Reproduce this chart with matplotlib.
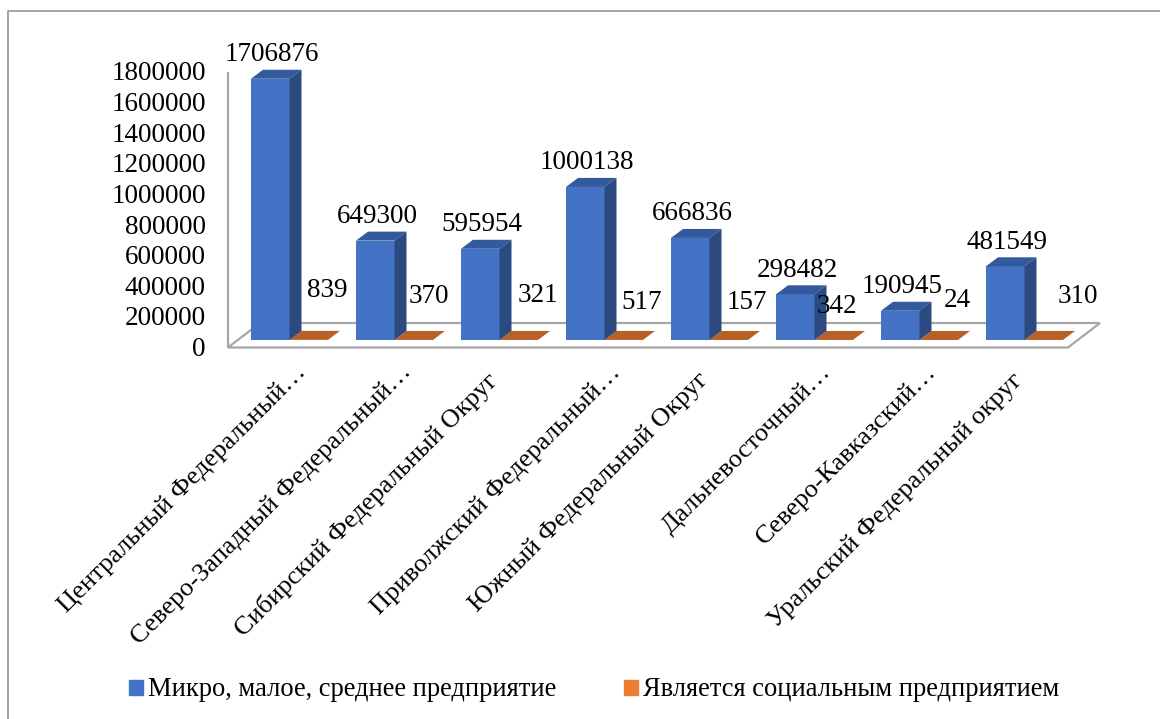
import matplotlib
matplotlib.use("Agg")
import matplotlib.pyplot as plt
from matplotlib.patches import Polygon, Patch
from matplotlib.transforms import ScaledTranslation

plt.rcParams['font.family'] = ['Liberation Serif', 'DejaVu Serif']

categories = ["Центральный Федеральный…", "Северо-Западный Федеральный…",
              "Сибирский Федеральный Округ", "Приволжский Федеральный…",
              "Южный Федеральный Округ", "Дальневосточный…",
              "Северо-Кавказский…", "Уральский Федеральный округ"]
micro = [1706876, 649300, 595954, 1000138, 666836, 298482, 190945, 481549]
social = [839, 370, 321, 517, 157, 342, 24, 310]
yticks = [0, 200000, 400000, 600000, 800000, 1000000, 1200000, 1400000, 1600000, 1800000]
series_names = ["Микро, малое, среднее предприятие", "Является социальным предприятием"]

W, H = 1160, 719
fig = plt.figure(figsize=(W / 100, H / 100), dpi=100)
AX_L, AX_R, AX_T, AX_B = 228, 1068, 71, 346.5
ax = fig.add_axes([AX_L / W, 1 - AX_B / H, (AX_R - AX_L) / W, (AX_B - AX_T) / H])
ax.set_xlim(-0.5, 7.5)
ax.set_ylim(0, 1800000)
for s in ax.spines.values():
    s.set_visible(False)
ax.patch.set_visible(False)

PXX = 1 / 105.0
PXY = 1800000 / (AX_B - AX_T)
FLOOR_PAD = 1 * PXY
BASE = 6.5 * PXY
BAR_W = 38.5 * PXX
LEFT = -29.5 * PXX
ORANGE_LEFT = LEFT + BAR_W
DX, DY = 12 * PXX, 9 * PXY
FDX, FDY = 32 * PXX, 24.5 * PXY
GRAY = "#A6A6A6"

# frame of the chart area
fig.add_artist(plt.Line2D([7.5 / W, 7.5 / W, 1], [0, 1 - 10.5 / H, 1 - 10.5 / H], color="#8C8C8C", lw=1.1))

# floor and wall
ax.add_patch(Polygon([(-0.5, -FLOOR_PAD), (7.5, -FLOOR_PAD), (7.5 + FDX, FDY - FLOOR_PAD), (-0.5 + FDX, FDY - FLOOR_PAD)], closed=True,
                     fc="white", ec=GRAY, lw=1.6, clip_on=False, zorder=1))
ax.plot([-0.5, -0.5], [-FLOOR_PAD, 1800000 - FLOOR_PAD], color=GRAY, lw=1.6, clip_on=False, zorder=1, solid_capstyle="butt")

xs = list(range(len(categories)))
ax.bar([x + LEFT for x in xs], micro, width=BAR_W, bottom=BASE, align="edge", color="#4472C4", zorder=3, clip_on=False)
ax.bar([x + ORANGE_LEFT for x in xs], social, width=BAR_W, bottom=BASE, align="edge", color="#ED7D31", zorder=2, clip_on=False)
for x, v, o in zip(xs, micro, social):
    l, r, t = x + LEFT, x + LEFT + BAR_W, BASE + v
    ax.add_patch(Polygon([(l, t), (r, t), (r + DX, t + DY), (l + DX, t + DY)], fc="#335A9C", ec="none", clip_on=False, zorder=3))
    ax.add_patch(Polygon([(r, BASE), (r, t), (r + DX, t + DY), (r + DX, BASE + DY)], fc="#2B4A80", ec="none", clip_on=False, zorder=3))
    ol, orr, ot = x + ORANGE_LEFT, x + ORANGE_LEFT + BAR_W, BASE + o
    ax.add_patch(Polygon([(ol, ot), (orr, ot), (orr + DX, ot + DY), (ol + DX, ot + DY)], fc="#B86126", ec="none", clip_on=False, zorder=2))

# data labels: pixel nudges of the hand-placed labels
micro_nudge = [(2, 24)] * 8
social_nudge = [(19, 49), (15, 43), (19, 44), (18, 37), (18, 37), (3, 33), (19, 39), (34, 43)]
FS = 19.5
for x, v, o, mn, sn in zip(xs, micro, social, micro_nudge, social_nudge):
    ax.annotate(f"{v}", (x + LEFT + BAR_W / 2, BASE + v), xytext=(mn[0] * .72, mn[1] * .72), textcoords="offset points",
                ha="center", va="center", fontsize=FS, color="black", annotation_clip=False, zorder=5)
    ax.annotate(f"{o}", (x + ORANGE_LEFT + BAR_W / 2, BASE + o), xytext=(sn[0] * .72, sn[1] * .72), textcoords="offset points",
                ha="center", va="center", fontsize=FS, color="black", annotation_clip=False, zorder=5)

ax.set_yticks(yticks)
ax.set_yticklabels([str(t) for t in yticks], fontsize=FS)
ax.tick_params(axis="y", length=0, pad=16)
ax.set_xticks(xs)
ax.set_xticklabels(categories, fontsize=19, rotation=45, ha="right", va="top", rotation_mode="anchor")
ax.tick_params(axis="x", length=0, pad=8)
label_nudge = [(14, -3), (14, -3), (-4, -11), (14, -3), (-4, -11), (14, -3), (14, -3), (-4, -11)]
for lab, (nx, ny) in zip(ax.get_xticklabels(), label_nudge):
    off = ScaledTranslation(nx / 100, ny / 100, fig.dpi_scale_trans)
    lab.set_transform(lab.get_transform() + off)

ax.legend(handles=[Patch(color="#4472C4", label=series_names[0]), Patch(color="#ED7D31", label=series_names[1])],
          loc="center", bbox_to_anchor=(594.5 / W, 1 - 690 / H), bbox_transform=fig.transFigure,
          ncol=2, frameon=False, fontsize=19.1, handlelength=0.53, handleheight=0.5, handletextpad=0.19, columnspacing=2.55,
          borderpad=0, borderaxespad=0)

fig.savefig("out.png", dpi=100)
